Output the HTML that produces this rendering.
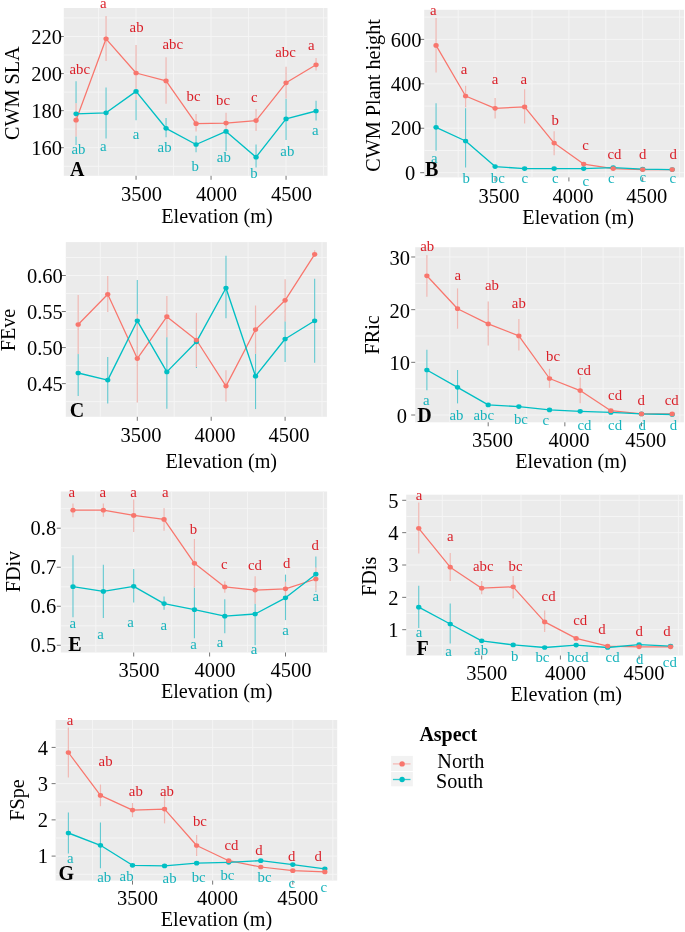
<!DOCTYPE html>
<html><head><meta charset="utf-8"><style>
html,body{margin:0;padding:0;background:#fff;overflow:hidden;width:685px;height:932px;}
svg{display:block;will-change:transform;}
text{font-family:"Liberation Serif",serif;}
.tk{font-size:20.5px;fill:#000;}
.ti{font-size:20.2px;fill:#000;}
.lt{font-size:14.8px;}
.tg{font-size:20px;font-weight:bold;fill:#000;}
</style></head><body>
<svg width="685" height="932" viewBox="0 0 685 932">
<rect x="63.8" y="8" width="263.7" height="167.8" fill="#EBEBEB"/>
<line x1="63.8" x2="327.5" y1="17.97" y2="17.97" stroke="#F5F5F5" stroke-width="1.0"/>
<line x1="63.8" x2="327.5" y1="55.03" y2="55.03" stroke="#F5F5F5" stroke-width="1.0"/>
<line x1="63.8" x2="327.5" y1="92.1" y2="92.1" stroke="#F5F5F5" stroke-width="1.0"/>
<line x1="63.8" x2="327.5" y1="129.16" y2="129.16" stroke="#F5F5F5" stroke-width="1.0"/>
<line x1="63.8" x2="327.5" y1="166.23" y2="166.23" stroke="#F5F5F5" stroke-width="1.0"/>
<line y1="8" y2="175.8" x1="98.55" x2="98.55" stroke="#F5F5F5" stroke-width="1.0"/>
<line y1="8" y2="175.8" x1="173.55" x2="173.55" stroke="#F5F5F5" stroke-width="1.0"/>
<line y1="8" y2="175.8" x1="248.55" x2="248.55" stroke="#F5F5F5" stroke-width="1.0"/>
<line y1="8" y2="175.8" x1="323.55" x2="323.55" stroke="#F5F5F5" stroke-width="1.0"/>
<line x1="63.8" x2="327.5" y1="36.5" y2="36.5" stroke="#F5F5F5" stroke-width="1.0"/>
<line x1="63.8" x2="327.5" y1="73.57" y2="73.57" stroke="#F5F5F5" stroke-width="1.0"/>
<line x1="63.8" x2="327.5" y1="110.63" y2="110.63" stroke="#F5F5F5" stroke-width="1.0"/>
<line x1="63.8" x2="327.5" y1="147.7" y2="147.7" stroke="#F5F5F5" stroke-width="1.0"/>
<line y1="8" y2="175.8" x1="136.05" x2="136.05" stroke="#F5F5F5" stroke-width="1.0"/>
<line y1="8" y2="175.8" x1="211.05" x2="211.05" stroke="#F5F5F5" stroke-width="1.0"/>
<line y1="8" y2="175.8" x1="286.05" x2="286.05" stroke="#F5F5F5" stroke-width="1.0"/>
<line x1="59.8" x2="63.8" y1="36.5" y2="36.5" stroke="#666" stroke-width="0.9"/>
<line x1="59.8" x2="63.8" y1="73.57" y2="73.57" stroke="#666" stroke-width="0.9"/>
<line x1="59.8" x2="63.8" y1="110.63" y2="110.63" stroke="#666" stroke-width="0.9"/>
<line x1="59.8" x2="63.8" y1="147.7" y2="147.7" stroke="#666" stroke-width="0.9"/>
<line y1="175.8" y2="179.8" x1="136.05" x2="136.05" stroke="#666" stroke-width="0.9"/>
<line y1="175.8" y2="179.8" x1="211.05" x2="211.05" stroke="#666" stroke-width="0.9"/>
<line y1="175.8" y2="179.8" x1="286.05" x2="286.05" stroke="#666" stroke-width="0.9"/>
<text x="62" y="43.7" text-anchor="end" class="tk">220</text>
<text x="62" y="80.77" text-anchor="end" class="tk">200</text>
<text x="62" y="117.83" text-anchor="end" class="tk">180</text>
<text x="62" y="154.9" text-anchor="end" class="tk">160</text>
<text x="141.55" y="200.6" text-anchor="middle" class="tk">3500</text>
<text x="216.55" y="200.6" text-anchor="middle" class="tk">4000</text>
<text x="291.55" y="200.6" text-anchor="middle" class="tk">4500</text>
<text transform="translate(19.3,93.2) rotate(-90)" x="0" y="0" text-anchor="middle" class="ti">CWM SLA</text>
<text x="217" y="222.8" text-anchor="middle" class="ti">Elevation (m)</text>
<line x1="76.05" x2="76.05" y1="81.3" y2="145.1" stroke="#62C9D1" stroke-width="1.1"/>
<line x1="106.05" x2="106.05" y1="87.5" y2="138.6" stroke="#62C9D1" stroke-width="1.1"/>
<line x1="136.05" x2="136.05" y1="68" y2="120.2" stroke="#62C9D1" stroke-width="1.1"/>
<line x1="166.05" x2="166.05" y1="118.1" y2="137.3" stroke="#62C9D1" stroke-width="1.1"/>
<line x1="196.05" x2="196.05" y1="135.8" y2="152.2" stroke="#62C9D1" stroke-width="1.1"/>
<line x1="226.05" x2="226.05" y1="113" y2="151.1" stroke="#62C9D1" stroke-width="1.1"/>
<line x1="256.05" x2="256.05" y1="144.5" y2="167.5" stroke="#62C9D1" stroke-width="1.1"/>
<line x1="286.05" x2="286.05" y1="98.5" y2="140.1" stroke="#62C9D1" stroke-width="1.1"/>
<line x1="316.05" x2="316.05" y1="100.7" y2="120.4" stroke="#62C9D1" stroke-width="1.1"/>
<line x1="76.05" x2="76.05" y1="103.2" y2="136.5" stroke="#EBEBEB" stroke-width="1.9"/>
<line x1="76.05" x2="76.05" y1="103.2" y2="136.5" stroke="#F0B9B4" stroke-width="1.2"/>
<line x1="106.05" x2="106.05" y1="15.9" y2="60.9" stroke="#EBEBEB" stroke-width="1.9"/>
<line x1="106.05" x2="106.05" y1="15.9" y2="60.9" stroke="#F0B9B4" stroke-width="1.2"/>
<line x1="136.05" x2="136.05" y1="45" y2="100.1" stroke="#EBEBEB" stroke-width="1.9"/>
<line x1="136.05" x2="136.05" y1="45" y2="100.1" stroke="#F0B9B4" stroke-width="1.2"/>
<line x1="166.05" x2="166.05" y1="57.2" y2="103.8" stroke="#EBEBEB" stroke-width="1.9"/>
<line x1="166.05" x2="166.05" y1="57.2" y2="103.8" stroke="#F0B9B4" stroke-width="1.2"/>
<line x1="196.05" x2="196.05" y1="113.9" y2="131.4" stroke="#EBEBEB" stroke-width="1.9"/>
<line x1="196.05" x2="196.05" y1="113.9" y2="131.4" stroke="#F0B9B4" stroke-width="1.2"/>
<line x1="226.05" x2="226.05" y1="112.8" y2="130.3" stroke="#EBEBEB" stroke-width="1.9"/>
<line x1="226.05" x2="226.05" y1="112.8" y2="130.3" stroke="#F0B9B4" stroke-width="1.2"/>
<line x1="256.05" x2="256.05" y1="109" y2="130.9" stroke="#EBEBEB" stroke-width="1.9"/>
<line x1="256.05" x2="256.05" y1="109" y2="130.9" stroke="#F0B9B4" stroke-width="1.2"/>
<line x1="286.05" x2="286.05" y1="66.8" y2="98.5" stroke="#EBEBEB" stroke-width="1.9"/>
<line x1="286.05" x2="286.05" y1="66.8" y2="98.5" stroke="#F0B9B4" stroke-width="1.2"/>
<line x1="316.05" x2="316.05" y1="58" y2="70.5" stroke="#EBEBEB" stroke-width="1.9"/>
<line x1="316.05" x2="316.05" y1="58" y2="70.5" stroke="#F0B9B4" stroke-width="1.2"/>
<polyline points="76.05,120.2 106.05,38.8 136.05,73 166.05,80.9 196.05,123.7 226.05,123.1 256.05,120.6 286.05,82.8 316.05,64.8" fill="none" stroke="#F8766D" stroke-width="1.25" stroke-linejoin="round"/>
<polyline points="76.05,113.8 106.05,112.8 136.05,91.4 166.05,128.3 196.05,144.5 226.05,131.4 256.05,157.2 286.05,118.9 316.05,111" fill="none" stroke="#00BFC4" stroke-width="1.35" stroke-linejoin="round"/>
<ellipse cx="76.05" cy="113.8" rx="2.65" ry="2.35" fill="#00BFC4"/>
<ellipse cx="106.05" cy="112.8" rx="2.65" ry="2.35" fill="#00BFC4"/>
<ellipse cx="136.05" cy="91.4" rx="2.65" ry="2.35" fill="#00BFC4"/>
<ellipse cx="166.05" cy="128.3" rx="2.65" ry="2.35" fill="#00BFC4"/>
<ellipse cx="196.05" cy="144.5" rx="2.65" ry="2.35" fill="#00BFC4"/>
<ellipse cx="226.05" cy="131.4" rx="2.65" ry="2.35" fill="#00BFC4"/>
<ellipse cx="256.05" cy="157.2" rx="2.65" ry="2.35" fill="#00BFC4"/>
<ellipse cx="286.05" cy="118.9" rx="2.65" ry="2.35" fill="#00BFC4"/>
<ellipse cx="316.05" cy="111" rx="2.65" ry="2.35" fill="#00BFC4"/>
<ellipse cx="76.05" cy="120.2" rx="2.65" ry="2.35" fill="#F8766D"/>
<ellipse cx="106.05" cy="38.8" rx="2.65" ry="2.35" fill="#F8766D"/>
<ellipse cx="136.05" cy="73" rx="2.65" ry="2.35" fill="#F8766D"/>
<ellipse cx="166.05" cy="80.9" rx="2.65" ry="2.35" fill="#F8766D"/>
<ellipse cx="196.05" cy="123.7" rx="2.65" ry="2.35" fill="#F8766D"/>
<ellipse cx="226.05" cy="123.1" rx="2.65" ry="2.35" fill="#F8766D"/>
<ellipse cx="256.05" cy="120.6" rx="2.65" ry="2.35" fill="#F8766D"/>
<ellipse cx="286.05" cy="82.8" rx="2.65" ry="2.35" fill="#F8766D"/>
<ellipse cx="316.05" cy="64.8" rx="2.65" ry="2.35" fill="#F8766D"/>
<text x="79.8" y="73.5" text-anchor="middle" class="lt" fill="#DA1F28">abc</text>
<text x="78.4" y="153.8" text-anchor="middle" class="lt" fill="#17B3BC">ab</text>
<text x="103.3" y="8.3" text-anchor="middle" class="lt" fill="#DA1F28">a</text>
<text x="103.3" y="151.1" text-anchor="middle" class="lt" fill="#17B3BC">a</text>
<text x="136.6" y="32.2" text-anchor="middle" class="lt" fill="#DA1F28">ab</text>
<text x="136" y="138.5" text-anchor="middle" class="lt" fill="#17B3BC">a</text>
<text x="172.8" y="49.1" text-anchor="middle" class="lt" fill="#DA1F28">abc</text>
<text x="164.6" y="151.7" text-anchor="middle" class="lt" fill="#17B3BC">ab</text>
<text x="193.6" y="100.8" text-anchor="middle" class="lt" fill="#DA1F28">bc</text>
<text x="195.3" y="171.3" text-anchor="middle" class="lt" fill="#17B3BC">b</text>
<text x="223.1" y="104.5" text-anchor="middle" class="lt" fill="#DA1F28">bc</text>
<text x="223.8" y="162.1" text-anchor="middle" class="lt" fill="#17B3BC">ab</text>
<text x="254.4" y="101.7" text-anchor="middle" class="lt" fill="#DA1F28">c</text>
<text x="254" y="177.9" text-anchor="middle" class="lt" fill="#17B3BC">b</text>
<text x="285.5" y="57" text-anchor="middle" class="lt" fill="#DA1F28">abc</text>
<text x="287.3" y="156.4" text-anchor="middle" class="lt" fill="#17B3BC">ab</text>
<text x="311.4" y="49.8" text-anchor="middle" class="lt" fill="#DA1F28">a</text>
<text x="315.3" y="135.2" text-anchor="middle" class="lt" fill="#17B3BC">a</text>
<text x="70" y="175.6" class="tg">A</text>
<rect x="424.2" y="9.8" width="259.8" height="167.6" fill="#EBEBEB"/>
<line x1="424.2" x2="684" y1="17.16" y2="17.16" stroke="#F5F5F5" stroke-width="1.0"/>
<line x1="424.2" x2="684" y1="61.6" y2="61.6" stroke="#F5F5F5" stroke-width="1.0"/>
<line x1="424.2" x2="684" y1="106.04" y2="106.04" stroke="#F5F5F5" stroke-width="1.0"/>
<line x1="424.2" x2="684" y1="150.48" y2="150.48" stroke="#F5F5F5" stroke-width="1.0"/>
<line y1="9.8" y2="177.4" x1="458.2" x2="458.2" stroke="#F5F5F5" stroke-width="1.0"/>
<line y1="9.8" y2="177.4" x1="532" x2="532" stroke="#F5F5F5" stroke-width="1.0"/>
<line y1="9.8" y2="177.4" x1="605.8" x2="605.8" stroke="#F5F5F5" stroke-width="1.0"/>
<line y1="9.8" y2="177.4" x1="679.6" x2="679.6" stroke="#F5F5F5" stroke-width="1.0"/>
<line x1="424.2" x2="684" y1="39.38" y2="39.38" stroke="#F5F5F5" stroke-width="1.0"/>
<line x1="424.2" x2="684" y1="83.82" y2="83.82" stroke="#F5F5F5" stroke-width="1.0"/>
<line x1="424.2" x2="684" y1="128.26" y2="128.26" stroke="#F5F5F5" stroke-width="1.0"/>
<line x1="424.2" x2="684" y1="172.7" y2="172.7" stroke="#F5F5F5" stroke-width="1.0"/>
<line y1="9.8" y2="177.4" x1="495.1" x2="495.1" stroke="#F5F5F5" stroke-width="1.0"/>
<line y1="9.8" y2="177.4" x1="568.9" x2="568.9" stroke="#F5F5F5" stroke-width="1.0"/>
<line y1="9.8" y2="177.4" x1="642.7" x2="642.7" stroke="#F5F5F5" stroke-width="1.0"/>
<line x1="420.2" x2="424.2" y1="39.38" y2="39.38" stroke="#666" stroke-width="0.9"/>
<line x1="420.2" x2="424.2" y1="83.82" y2="83.82" stroke="#666" stroke-width="0.9"/>
<line x1="420.2" x2="424.2" y1="128.26" y2="128.26" stroke="#666" stroke-width="0.9"/>
<line x1="420.2" x2="424.2" y1="172.7" y2="172.7" stroke="#666" stroke-width="0.9"/>
<line y1="177.4" y2="181.4" x1="495.1" x2="495.1" stroke="#666" stroke-width="0.9"/>
<line y1="177.4" y2="181.4" x1="568.9" x2="568.9" stroke="#666" stroke-width="0.9"/>
<line y1="177.4" y2="181.4" x1="642.7" x2="642.7" stroke="#666" stroke-width="0.9"/>
<text x="421.5" y="46.58" text-anchor="end" class="tk">600</text>
<text x="421.5" y="91.02" text-anchor="end" class="tk">400</text>
<text x="421.5" y="135.46" text-anchor="end" class="tk">200</text>
<text x="415.2" y="179.9" text-anchor="end" class="tk">0</text>
<text x="499.1" y="202.9" text-anchor="middle" class="tk">3500</text>
<text x="572.9" y="202.9" text-anchor="middle" class="tk">4000</text>
<text x="646.7" y="202.9" text-anchor="middle" class="tk">4500</text>
<text transform="translate(380,95.4) rotate(-90)" x="0" y="0" text-anchor="middle" class="ti">CWM Plant height</text>
<text x="578.1" y="224.2" text-anchor="middle" class="ti">Elevation (m)</text>
<line x1="436.06" x2="436.06" y1="103.2" y2="150.8" stroke="#62C9D1" stroke-width="1.1"/>
<line x1="465.58" x2="465.58" y1="108.3" y2="167.6" stroke="#62C9D1" stroke-width="1.1"/>
<line x1="436.06" x2="436.06" y1="18" y2="72.6" stroke="#EBEBEB" stroke-width="1.9"/>
<line x1="436.06" x2="436.06" y1="18" y2="72.6" stroke="#F0B9B4" stroke-width="1.2"/>
<line x1="465.58" x2="465.58" y1="85.8" y2="107.3" stroke="#EBEBEB" stroke-width="1.9"/>
<line x1="465.58" x2="465.58" y1="85.8" y2="107.3" stroke="#F0B9B4" stroke-width="1.2"/>
<line x1="495.1" x2="495.1" y1="98.1" y2="118.5" stroke="#EBEBEB" stroke-width="1.9"/>
<line x1="495.1" x2="495.1" y1="98.1" y2="118.5" stroke="#F0B9B4" stroke-width="1.2"/>
<line x1="524.62" x2="524.62" y1="89.3" y2="123.6" stroke="#EBEBEB" stroke-width="1.9"/>
<line x1="524.62" x2="524.62" y1="89.3" y2="123.6" stroke="#F0B9B4" stroke-width="1.2"/>
<line x1="554.14" x2="554.14" y1="131.2" y2="155.3" stroke="#EBEBEB" stroke-width="1.9"/>
<line x1="554.14" x2="554.14" y1="131.2" y2="155.3" stroke="#F0B9B4" stroke-width="1.2"/>
<polyline points="436.06,45.4 465.58,96 495.1,108.3 524.62,106.9 554.14,143.1 583.66,164.1 613.18,168.6 642.7,169.6 672.22,169.6" fill="none" stroke="#F8766D" stroke-width="1.25" stroke-linejoin="round"/>
<polyline points="436.06,127.3 465.58,141 495.1,166.6 524.62,168.6 554.14,168.6 583.66,168.6 613.18,167.6 642.7,169.2 672.22,169.6" fill="none" stroke="#00BFC4" stroke-width="1.35" stroke-linejoin="round"/>
<ellipse cx="436.06" cy="127.3" rx="2.65" ry="2.35" fill="#00BFC4"/>
<ellipse cx="465.58" cy="141" rx="2.65" ry="2.35" fill="#00BFC4"/>
<ellipse cx="495.1" cy="166.6" rx="2.65" ry="2.35" fill="#00BFC4"/>
<ellipse cx="524.62" cy="168.6" rx="2.65" ry="2.35" fill="#00BFC4"/>
<ellipse cx="554.14" cy="168.6" rx="2.65" ry="2.35" fill="#00BFC4"/>
<ellipse cx="583.66" cy="168.6" rx="2.65" ry="2.35" fill="#00BFC4"/>
<ellipse cx="613.18" cy="167.6" rx="2.65" ry="2.35" fill="#00BFC4"/>
<ellipse cx="642.7" cy="169.2" rx="2.65" ry="2.35" fill="#00BFC4"/>
<ellipse cx="672.22" cy="169.6" rx="2.65" ry="2.35" fill="#00BFC4"/>
<ellipse cx="436.06" cy="45.4" rx="2.65" ry="2.35" fill="#F8766D"/>
<ellipse cx="465.58" cy="96" rx="2.65" ry="2.35" fill="#F8766D"/>
<ellipse cx="495.1" cy="108.3" rx="2.65" ry="2.35" fill="#F8766D"/>
<ellipse cx="524.62" cy="106.9" rx="2.65" ry="2.35" fill="#F8766D"/>
<ellipse cx="554.14" cy="143.1" rx="2.65" ry="2.35" fill="#F8766D"/>
<ellipse cx="583.66" cy="164.1" rx="2.65" ry="2.35" fill="#F8766D"/>
<ellipse cx="613.18" cy="168.6" rx="2.65" ry="2.35" fill="#F8766D"/>
<ellipse cx="642.7" cy="169.6" rx="2.65" ry="2.35" fill="#F8766D"/>
<ellipse cx="672.22" cy="169.6" rx="2.65" ry="2.35" fill="#F8766D"/>
<text x="433.4" y="15.2" text-anchor="middle" class="lt" fill="#DA1F28">a</text>
<text x="434.4" y="163" text-anchor="middle" class="lt" fill="#17B3BC">a</text>
<text x="464" y="73.7" text-anchor="middle" class="lt" fill="#DA1F28">a</text>
<text x="466.1" y="182.8" text-anchor="middle" class="lt" fill="#17B3BC">b</text>
<text x="495.1" y="83.9" text-anchor="middle" class="lt" fill="#DA1F28">a</text>
<text x="497.8" y="183.4" text-anchor="middle" class="lt" fill="#17B3BC">bc</text>
<text x="523.9" y="83.9" text-anchor="middle" class="lt" fill="#DA1F28">a</text>
<text x="524.7" y="183.4" text-anchor="middle" class="lt" fill="#17B3BC">c</text>
<text x="555.2" y="124.8" text-anchor="middle" class="lt" fill="#DA1F28">b</text>
<text x="555.2" y="183" text-anchor="middle" class="lt" fill="#17B3BC">c</text>
<text x="585.5" y="150.1" text-anchor="middle" class="lt" fill="#DA1F28">c</text>
<text x="585.9" y="185.5" text-anchor="middle" class="lt" fill="#17B3BC">c</text>
<text x="614.5" y="158.9" text-anchor="middle" class="lt" fill="#DA1F28">cd</text>
<text x="611.4" y="183.4" text-anchor="middle" class="lt" fill="#17B3BC">c</text>
<text x="642.7" y="158.9" text-anchor="middle" class="lt" fill="#DA1F28">d</text>
<text x="642.7" y="182.4" text-anchor="middle" class="lt" fill="#17B3BC">c</text>
<text x="673.3" y="158.9" text-anchor="middle" class="lt" fill="#DA1F28">d</text>
<text x="672.7" y="183.4" text-anchor="middle" class="lt" fill="#17B3BC">c</text>
<text x="425" y="176.2" class="tg">B</text>
<rect x="65.8" y="242.1" width="261.1" height="174.7" fill="#EBEBEB"/>
<line x1="65.8" x2="326.9" y1="257.48" y2="257.48" stroke="#F5F5F5" stroke-width="1.0"/>
<line x1="65.8" x2="326.9" y1="293.52" y2="293.52" stroke="#F5F5F5" stroke-width="1.0"/>
<line x1="65.8" x2="326.9" y1="329.55" y2="329.55" stroke="#F5F5F5" stroke-width="1.0"/>
<line x1="65.8" x2="326.9" y1="365.59" y2="365.59" stroke="#F5F5F5" stroke-width="1.0"/>
<line x1="65.8" x2="326.9" y1="401.62" y2="401.62" stroke="#F5F5F5" stroke-width="1.0"/>
<line y1="242.1" y2="416.8" x1="100.35" x2="100.35" stroke="#F5F5F5" stroke-width="1.0"/>
<line y1="242.1" y2="416.8" x1="174.25" x2="174.25" stroke="#F5F5F5" stroke-width="1.0"/>
<line y1="242.1" y2="416.8" x1="248.15" x2="248.15" stroke="#F5F5F5" stroke-width="1.0"/>
<line y1="242.1" y2="416.8" x1="322.05" x2="322.05" stroke="#F5F5F5" stroke-width="1.0"/>
<line x1="65.8" x2="326.9" y1="275.5" y2="275.5" stroke="#F5F5F5" stroke-width="1.0"/>
<line x1="65.8" x2="326.9" y1="311.53" y2="311.53" stroke="#F5F5F5" stroke-width="1.0"/>
<line x1="65.8" x2="326.9" y1="347.57" y2="347.57" stroke="#F5F5F5" stroke-width="1.0"/>
<line x1="65.8" x2="326.9" y1="383.61" y2="383.61" stroke="#F5F5F5" stroke-width="1.0"/>
<line y1="242.1" y2="416.8" x1="137.3" x2="137.3" stroke="#F5F5F5" stroke-width="1.0"/>
<line y1="242.1" y2="416.8" x1="211.2" x2="211.2" stroke="#F5F5F5" stroke-width="1.0"/>
<line y1="242.1" y2="416.8" x1="285.1" x2="285.1" stroke="#F5F5F5" stroke-width="1.0"/>
<line x1="61.8" x2="65.8" y1="275.5" y2="275.5" stroke="#666" stroke-width="0.9"/>
<line x1="61.8" x2="65.8" y1="311.53" y2="311.53" stroke="#666" stroke-width="0.9"/>
<line x1="61.8" x2="65.8" y1="347.57" y2="347.57" stroke="#666" stroke-width="0.9"/>
<line x1="61.8" x2="65.8" y1="383.61" y2="383.61" stroke="#666" stroke-width="0.9"/>
<line y1="416.8" y2="420.8" x1="137.3" x2="137.3" stroke="#666" stroke-width="0.9"/>
<line y1="416.8" y2="420.8" x1="211.2" x2="211.2" stroke="#666" stroke-width="0.9"/>
<line y1="416.8" y2="420.8" x1="285.1" x2="285.1" stroke="#666" stroke-width="0.9"/>
<text x="62.8" y="282.7" text-anchor="end" class="tk">0.60</text>
<text x="62.8" y="318.73" text-anchor="end" class="tk">0.55</text>
<text x="62.8" y="354.77" text-anchor="end" class="tk">0.50</text>
<text x="62.8" y="390.81" text-anchor="end" class="tk">0.45</text>
<text x="141.1" y="442" text-anchor="middle" class="tk">3500</text>
<text x="215" y="442" text-anchor="middle" class="tk">4000</text>
<text x="288.9" y="442" text-anchor="middle" class="tk">4500</text>
<text transform="translate(14.9,330) rotate(-90)" x="0" y="0" text-anchor="middle" class="ti">FEve</text>
<text x="221.3" y="467.7" text-anchor="middle" class="ti">Elevation (m)</text>
<line x1="78.18" x2="78.18" y1="353.5" y2="396" stroke="#62C9D1" stroke-width="1.1"/>
<line x1="107.74" x2="107.74" y1="357" y2="403.6" stroke="#62C9D1" stroke-width="1.1"/>
<line x1="137.3" x2="137.3" y1="280" y2="361.6" stroke="#62C9D1" stroke-width="1.1"/>
<line x1="166.86" x2="166.86" y1="336.8" y2="408.7" stroke="#62C9D1" stroke-width="1.1"/>
<line x1="196.42" x2="196.42" y1="315.6" y2="368" stroke="#62C9D1" stroke-width="1.1"/>
<line x1="225.98" x2="225.98" y1="255.8" y2="318.2" stroke="#62C9D1" stroke-width="1.1"/>
<line x1="255.54" x2="255.54" y1="343.3" y2="409.1" stroke="#62C9D1" stroke-width="1.1"/>
<line x1="285.1" x2="285.1" y1="316" y2="362" stroke="#62C9D1" stroke-width="1.1"/>
<line x1="314.66" x2="314.66" y1="278.8" y2="362.8" stroke="#62C9D1" stroke-width="1.1"/>
<line x1="78.18" x2="78.18" y1="294.9" y2="354.1" stroke="#EBEBEB" stroke-width="1.9"/>
<line x1="78.18" x2="78.18" y1="294.9" y2="354.1" stroke="#F0B9B4" stroke-width="1.2"/>
<line x1="107.74" x2="107.74" y1="275.9" y2="312" stroke="#EBEBEB" stroke-width="1.9"/>
<line x1="107.74" x2="107.74" y1="275.9" y2="312" stroke="#F0B9B4" stroke-width="1.2"/>
<line x1="137.3" x2="137.3" y1="314.6" y2="402.6" stroke="#EBEBEB" stroke-width="1.9"/>
<line x1="137.3" x2="137.3" y1="314.6" y2="402.6" stroke="#F0B9B4" stroke-width="1.2"/>
<line x1="166.86" x2="166.86" y1="295.9" y2="337.2" stroke="#EBEBEB" stroke-width="1.9"/>
<line x1="166.86" x2="166.86" y1="295.9" y2="337.2" stroke="#F0B9B4" stroke-width="1.2"/>
<line x1="196.42" x2="196.42" y1="312.9" y2="367" stroke="#EBEBEB" stroke-width="1.9"/>
<line x1="196.42" x2="196.42" y1="312.9" y2="367" stroke="#F0B9B4" stroke-width="1.2"/>
<line x1="225.98" x2="225.98" y1="370.3" y2="401.4" stroke="#EBEBEB" stroke-width="1.9"/>
<line x1="225.98" x2="225.98" y1="370.3" y2="401.4" stroke="#F0B9B4" stroke-width="1.2"/>
<line x1="255.54" x2="255.54" y1="305.5" y2="353.7" stroke="#EBEBEB" stroke-width="1.9"/>
<line x1="255.54" x2="255.54" y1="305.5" y2="353.7" stroke="#F0B9B4" stroke-width="1.2"/>
<line x1="285.1" x2="285.1" y1="279.2" y2="321.4" stroke="#EBEBEB" stroke-width="1.9"/>
<line x1="285.1" x2="285.1" y1="279.2" y2="321.4" stroke="#F0B9B4" stroke-width="1.2"/>
<line x1="314.66" x2="314.66" y1="250.3" y2="256.9" stroke="#EBEBEB" stroke-width="1.9"/>
<line x1="314.66" x2="314.66" y1="250.3" y2="256.9" stroke="#F0B9B4" stroke-width="1.2"/>
<polyline points="78.18,324.5 107.74,294.3 137.3,358.6 166.86,316.7 196.42,340 225.98,386.1 255.54,329.6 285.1,300.3 314.66,254.3" fill="none" stroke="#F8766D" stroke-width="1.25" stroke-linejoin="round"/>
<polyline points="78.18,373 107.74,380.1 137.3,320.8 166.86,371.9 196.42,341.8 225.98,288 255.54,376.2 285.1,339 314.66,320.8" fill="none" stroke="#00BFC4" stroke-width="1.35" stroke-linejoin="round"/>
<ellipse cx="78.18" cy="373" rx="2.65" ry="2.35" fill="#00BFC4"/>
<ellipse cx="107.74" cy="380.1" rx="2.65" ry="2.35" fill="#00BFC4"/>
<ellipse cx="137.3" cy="320.8" rx="2.65" ry="2.35" fill="#00BFC4"/>
<ellipse cx="166.86" cy="371.9" rx="2.65" ry="2.35" fill="#00BFC4"/>
<ellipse cx="196.42" cy="341.8" rx="2.65" ry="2.35" fill="#00BFC4"/>
<ellipse cx="225.98" cy="288" rx="2.65" ry="2.35" fill="#00BFC4"/>
<ellipse cx="255.54" cy="376.2" rx="2.65" ry="2.35" fill="#00BFC4"/>
<ellipse cx="285.1" cy="339" rx="2.65" ry="2.35" fill="#00BFC4"/>
<ellipse cx="314.66" cy="320.8" rx="2.65" ry="2.35" fill="#00BFC4"/>
<ellipse cx="78.18" cy="324.5" rx="2.65" ry="2.35" fill="#F8766D"/>
<ellipse cx="107.74" cy="294.3" rx="2.65" ry="2.35" fill="#F8766D"/>
<ellipse cx="137.3" cy="358.6" rx="2.65" ry="2.35" fill="#F8766D"/>
<ellipse cx="166.86" cy="316.7" rx="2.65" ry="2.35" fill="#F8766D"/>
<ellipse cx="196.42" cy="340" rx="2.65" ry="2.35" fill="#F8766D"/>
<ellipse cx="225.98" cy="386.1" rx="2.65" ry="2.35" fill="#F8766D"/>
<ellipse cx="255.54" cy="329.6" rx="2.65" ry="2.35" fill="#F8766D"/>
<ellipse cx="285.1" cy="300.3" rx="2.65" ry="2.35" fill="#F8766D"/>
<ellipse cx="314.66" cy="254.3" rx="2.65" ry="2.35" fill="#F8766D"/>
<text x="69.8" y="416.5" class="tg">C</text>
<rect x="415.2" y="247.2" width="268.7" height="175.1" fill="#EBEBEB"/>
<line x1="415.2" x2="683.9" y1="283.32" y2="283.32" stroke="#F5F5F5" stroke-width="1.0"/>
<line x1="415.2" x2="683.9" y1="336" y2="336" stroke="#F5F5F5" stroke-width="1.0"/>
<line x1="415.2" x2="683.9" y1="388.67" y2="388.67" stroke="#F5F5F5" stroke-width="1.0"/>
<line y1="247.2" y2="422.3" x1="449.88" x2="449.88" stroke="#F5F5F5" stroke-width="1.0"/>
<line y1="247.2" y2="422.3" x1="526.52" x2="526.52" stroke="#F5F5F5" stroke-width="1.0"/>
<line y1="247.2" y2="422.3" x1="603.17" x2="603.17" stroke="#F5F5F5" stroke-width="1.0"/>
<line y1="247.2" y2="422.3" x1="679.83" x2="679.83" stroke="#F5F5F5" stroke-width="1.0"/>
<line x1="415.2" x2="683.9" y1="256.99" y2="256.99" stroke="#F5F5F5" stroke-width="1.0"/>
<line x1="415.2" x2="683.9" y1="309.66" y2="309.66" stroke="#F5F5F5" stroke-width="1.0"/>
<line x1="415.2" x2="683.9" y1="362.33" y2="362.33" stroke="#F5F5F5" stroke-width="1.0"/>
<line x1="415.2" x2="683.9" y1="415" y2="415" stroke="#F5F5F5" stroke-width="1.0"/>
<line y1="247.2" y2="422.3" x1="488.2" x2="488.2" stroke="#F5F5F5" stroke-width="1.0"/>
<line y1="247.2" y2="422.3" x1="564.85" x2="564.85" stroke="#F5F5F5" stroke-width="1.0"/>
<line y1="247.2" y2="422.3" x1="641.5" x2="641.5" stroke="#F5F5F5" stroke-width="1.0"/>
<line x1="411.2" x2="415.2" y1="256.99" y2="256.99" stroke="#666" stroke-width="0.9"/>
<line x1="411.2" x2="415.2" y1="309.66" y2="309.66" stroke="#666" stroke-width="0.9"/>
<line x1="411.2" x2="415.2" y1="362.33" y2="362.33" stroke="#666" stroke-width="0.9"/>
<line x1="411.2" x2="415.2" y1="415" y2="415" stroke="#666" stroke-width="0.9"/>
<line y1="422.3" y2="426.3" x1="488.2" x2="488.2" stroke="#666" stroke-width="0.9"/>
<line y1="422.3" y2="426.3" x1="564.85" x2="564.85" stroke="#666" stroke-width="0.9"/>
<line y1="422.3" y2="426.3" x1="641.5" x2="641.5" stroke="#666" stroke-width="0.9"/>
<text x="409.9" y="264.99" text-anchor="end" class="tk">30</text>
<text x="409.9" y="317.66" text-anchor="end" class="tk">20</text>
<text x="409.9" y="370.33" text-anchor="end" class="tk">10</text>
<text x="407" y="423" text-anchor="end" class="tk">0</text>
<text x="492.4" y="447.4" text-anchor="middle" class="tk">3500</text>
<text x="569.05" y="447.4" text-anchor="middle" class="tk">4000</text>
<text x="645.7" y="447.4" text-anchor="middle" class="tk">4500</text>
<text transform="translate(379.3,334.9) rotate(-90)" x="0" y="0" text-anchor="middle" class="ti">FRic</text>
<text x="571" y="468.3" text-anchor="middle" class="ti">Elevation (m)</text>
<line x1="426.88" x2="426.88" y1="349.7" y2="390.3" stroke="#62C9D1" stroke-width="1.1"/>
<line x1="457.54" x2="457.54" y1="370" y2="403.4" stroke="#62C9D1" stroke-width="1.1"/>
<line x1="426.88" x2="426.88" y1="254.9" y2="296.7" stroke="#EBEBEB" stroke-width="1.9"/>
<line x1="426.88" x2="426.88" y1="254.9" y2="296.7" stroke="#F0B9B4" stroke-width="1.2"/>
<line x1="457.54" x2="457.54" y1="288.4" y2="328.7" stroke="#EBEBEB" stroke-width="1.9"/>
<line x1="457.54" x2="457.54" y1="288.4" y2="328.7" stroke="#F0B9B4" stroke-width="1.2"/>
<line x1="488.2" x2="488.2" y1="301.5" y2="345.5" stroke="#EBEBEB" stroke-width="1.9"/>
<line x1="488.2" x2="488.2" y1="301.5" y2="345.5" stroke="#F0B9B4" stroke-width="1.2"/>
<line x1="518.86" x2="518.86" y1="319.1" y2="350.5" stroke="#EBEBEB" stroke-width="1.9"/>
<line x1="518.86" x2="518.86" y1="319.1" y2="350.5" stroke="#F0B9B4" stroke-width="1.2"/>
<line x1="549.52" x2="549.52" y1="368.8" y2="387.8" stroke="#EBEBEB" stroke-width="1.9"/>
<line x1="549.52" x2="549.52" y1="368.8" y2="387.8" stroke="#F0B9B4" stroke-width="1.2"/>
<line x1="580.18" x2="580.18" y1="377.3" y2="403.3" stroke="#EBEBEB" stroke-width="1.9"/>
<line x1="580.18" x2="580.18" y1="377.3" y2="403.3" stroke="#F0B9B4" stroke-width="1.2"/>
<polyline points="426.88,275.8 457.54,308.7 488.2,323.9 518.86,335.9 549.52,378.5 580.18,390.6 610.84,410.7 641.5,413.9 672.16,413.9" fill="none" stroke="#F8766D" stroke-width="1.25" stroke-linejoin="round"/>
<polyline points="426.88,370 457.54,387.3 488.2,404.9 518.86,406.6 549.52,409.9 580.18,411.3 610.84,412.4 641.5,413.9 672.16,414.5" fill="none" stroke="#00BFC4" stroke-width="1.35" stroke-linejoin="round"/>
<ellipse cx="426.88" cy="370" rx="2.65" ry="2.35" fill="#00BFC4"/>
<ellipse cx="457.54" cy="387.3" rx="2.65" ry="2.35" fill="#00BFC4"/>
<ellipse cx="488.2" cy="404.9" rx="2.65" ry="2.35" fill="#00BFC4"/>
<ellipse cx="518.86" cy="406.6" rx="2.65" ry="2.35" fill="#00BFC4"/>
<ellipse cx="549.52" cy="409.9" rx="2.65" ry="2.35" fill="#00BFC4"/>
<ellipse cx="580.18" cy="411.3" rx="2.65" ry="2.35" fill="#00BFC4"/>
<ellipse cx="610.84" cy="412.4" rx="2.65" ry="2.35" fill="#00BFC4"/>
<ellipse cx="641.5" cy="413.9" rx="2.65" ry="2.35" fill="#00BFC4"/>
<ellipse cx="672.16" cy="414.5" rx="2.65" ry="2.35" fill="#00BFC4"/>
<ellipse cx="426.88" cy="275.8" rx="2.65" ry="2.35" fill="#F8766D"/>
<ellipse cx="457.54" cy="308.7" rx="2.65" ry="2.35" fill="#F8766D"/>
<ellipse cx="488.2" cy="323.9" rx="2.65" ry="2.35" fill="#F8766D"/>
<ellipse cx="518.86" cy="335.9" rx="2.65" ry="2.35" fill="#F8766D"/>
<ellipse cx="549.52" cy="378.5" rx="2.65" ry="2.35" fill="#F8766D"/>
<ellipse cx="580.18" cy="390.6" rx="2.65" ry="2.35" fill="#F8766D"/>
<ellipse cx="610.84" cy="410.7" rx="2.65" ry="2.35" fill="#F8766D"/>
<ellipse cx="641.5" cy="413.9" rx="2.65" ry="2.35" fill="#F8766D"/>
<ellipse cx="672.16" cy="413.9" rx="2.65" ry="2.35" fill="#F8766D"/>
<text x="427.2" y="250.8" text-anchor="middle" class="lt" fill="#DA1F28">ab</text>
<text x="426.3" y="404.6" text-anchor="middle" class="lt" fill="#17B3BC">a</text>
<text x="457.7" y="279.9" text-anchor="middle" class="lt" fill="#DA1F28">a</text>
<text x="456.5" y="419.6" text-anchor="middle" class="lt" fill="#17B3BC">ab</text>
<text x="492" y="290.3" text-anchor="middle" class="lt" fill="#DA1F28">ab</text>
<text x="483.7" y="419.6" text-anchor="middle" class="lt" fill="#17B3BC">abc</text>
<text x="518.8" y="307.7" text-anchor="middle" class="lt" fill="#DA1F28">ab</text>
<text x="520.9" y="424.2" text-anchor="middle" class="lt" fill="#17B3BC">bc</text>
<text x="553.1" y="360.8" text-anchor="middle" class="lt" fill="#DA1F28">bc</text>
<text x="545.9" y="425" text-anchor="middle" class="lt" fill="#17B3BC">c</text>
<text x="584" y="375.2" text-anchor="middle" class="lt" fill="#DA1F28">cd</text>
<text x="584.5" y="429.9" text-anchor="middle" class="lt" fill="#17B3BC">cd</text>
<text x="615.1" y="399.6" text-anchor="middle" class="lt" fill="#DA1F28">cd</text>
<text x="615.1" y="429.9" text-anchor="middle" class="lt" fill="#17B3BC">cd</text>
<text x="641.2" y="405" text-anchor="middle" class="lt" fill="#DA1F28">d</text>
<text x="642.2" y="430.1" text-anchor="middle" class="lt" fill="#17B3BC">d</text>
<text x="671.7" y="405.3" text-anchor="middle" class="lt" fill="#DA1F28">cd</text>
<text x="673.4" y="430.3" text-anchor="middle" class="lt" fill="#17B3BC">d</text>
<text x="417.3" y="422.3" class="tg">D</text>
<rect x="60.8" y="491.5" width="266.3" height="161" fill="#EBEBEB"/>
<line x1="60.8" x2="327.1" y1="508.69" y2="508.69" stroke="#F5F5F5" stroke-width="1.0"/>
<line x1="60.8" x2="327.1" y1="547.72" y2="547.72" stroke="#F5F5F5" stroke-width="1.0"/>
<line x1="60.8" x2="327.1" y1="586.75" y2="586.75" stroke="#F5F5F5" stroke-width="1.0"/>
<line x1="60.8" x2="327.1" y1="625.78" y2="625.78" stroke="#F5F5F5" stroke-width="1.0"/>
<line y1="491.5" y2="652.5" x1="95.75" x2="95.75" stroke="#F5F5F5" stroke-width="1.0"/>
<line y1="491.5" y2="652.5" x1="171.65" x2="171.65" stroke="#F5F5F5" stroke-width="1.0"/>
<line y1="491.5" y2="652.5" x1="247.55" x2="247.55" stroke="#F5F5F5" stroke-width="1.0"/>
<line y1="491.5" y2="652.5" x1="323.45" x2="323.45" stroke="#F5F5F5" stroke-width="1.0"/>
<line x1="60.8" x2="327.1" y1="528.2" y2="528.2" stroke="#F5F5F5" stroke-width="1.0"/>
<line x1="60.8" x2="327.1" y1="567.23" y2="567.23" stroke="#F5F5F5" stroke-width="1.0"/>
<line x1="60.8" x2="327.1" y1="606.26" y2="606.26" stroke="#F5F5F5" stroke-width="1.0"/>
<line x1="60.8" x2="327.1" y1="645.29" y2="645.29" stroke="#F5F5F5" stroke-width="1.0"/>
<line y1="491.5" y2="652.5" x1="133.7" x2="133.7" stroke="#F5F5F5" stroke-width="1.0"/>
<line y1="491.5" y2="652.5" x1="209.6" x2="209.6" stroke="#F5F5F5" stroke-width="1.0"/>
<line y1="491.5" y2="652.5" x1="285.5" x2="285.5" stroke="#F5F5F5" stroke-width="1.0"/>
<line x1="56.8" x2="60.8" y1="528.2" y2="528.2" stroke="#666" stroke-width="0.9"/>
<line x1="56.8" x2="60.8" y1="567.23" y2="567.23" stroke="#666" stroke-width="0.9"/>
<line x1="56.8" x2="60.8" y1="606.26" y2="606.26" stroke="#666" stroke-width="0.9"/>
<line x1="56.8" x2="60.8" y1="645.29" y2="645.29" stroke="#666" stroke-width="0.9"/>
<line y1="652.5" y2="656.5" x1="133.7" x2="133.7" stroke="#666" stroke-width="0.9"/>
<line y1="652.5" y2="656.5" x1="209.6" x2="209.6" stroke="#666" stroke-width="0.9"/>
<line y1="652.5" y2="656.5" x1="285.5" x2="285.5" stroke="#666" stroke-width="0.9"/>
<text x="56.2" y="535.4" text-anchor="end" class="tk">0.8</text>
<text x="56.2" y="574.43" text-anchor="end" class="tk">0.7</text>
<text x="56.2" y="613.46" text-anchor="end" class="tk">0.6</text>
<text x="56.2" y="652.49" text-anchor="end" class="tk">0.5</text>
<text x="139.1" y="677" text-anchor="middle" class="tk">3500</text>
<text x="215" y="677" text-anchor="middle" class="tk">4000</text>
<text x="290.9" y="677" text-anchor="middle" class="tk">4500</text>
<text transform="translate(20.2,571.6) rotate(-90)" x="0" y="0" text-anchor="middle" class="ti">FDiv</text>
<text x="216.7" y="697.7" text-anchor="middle" class="ti">Elevation (m)</text>
<line x1="72.98" x2="72.98" y1="555.2" y2="617.3" stroke="#62C9D1" stroke-width="1.1"/>
<line x1="103.34" x2="103.34" y1="564.8" y2="618" stroke="#62C9D1" stroke-width="1.1"/>
<line x1="133.7" x2="133.7" y1="568.9" y2="602.6" stroke="#62C9D1" stroke-width="1.1"/>
<line x1="164.06" x2="164.06" y1="596.5" y2="609.8" stroke="#62C9D1" stroke-width="1.1"/>
<line x1="194.42" x2="194.42" y1="587.3" y2="638.2" stroke="#62C9D1" stroke-width="1.1"/>
<line x1="224.78" x2="224.78" y1="599.3" y2="633.3" stroke="#62C9D1" stroke-width="1.1"/>
<line x1="255.14" x2="255.14" y1="582.7" y2="645.3" stroke="#62C9D1" stroke-width="1.1"/>
<line x1="285.5" x2="285.5" y1="574.6" y2="620.1" stroke="#62C9D1" stroke-width="1.1"/>
<line x1="315.86" x2="315.86" y1="556.6" y2="591.8" stroke="#62C9D1" stroke-width="1.1"/>
<line x1="72.98" x2="72.98" y1="503.5" y2="517.2" stroke="#EBEBEB" stroke-width="1.9"/>
<line x1="72.98" x2="72.98" y1="503.5" y2="517.2" stroke="#F0B9B4" stroke-width="1.2"/>
<line x1="103.34" x2="103.34" y1="503.5" y2="516.8" stroke="#EBEBEB" stroke-width="1.9"/>
<line x1="103.34" x2="103.34" y1="503.5" y2="516.8" stroke="#F0B9B4" stroke-width="1.2"/>
<line x1="133.7" x2="133.7" y1="499.4" y2="532.1" stroke="#EBEBEB" stroke-width="1.9"/>
<line x1="133.7" x2="133.7" y1="499.4" y2="532.1" stroke="#F0B9B4" stroke-width="1.2"/>
<line x1="164.06" x2="164.06" y1="508.2" y2="530.7" stroke="#EBEBEB" stroke-width="1.9"/>
<line x1="164.06" x2="164.06" y1="508.2" y2="530.7" stroke="#F0B9B4" stroke-width="1.2"/>
<line x1="194.42" x2="194.42" y1="539" y2="587.5" stroke="#EBEBEB" stroke-width="1.9"/>
<line x1="194.42" x2="194.42" y1="539" y2="587.5" stroke="#F0B9B4" stroke-width="1.2"/>
<line x1="224.78" x2="224.78" y1="581.2" y2="592.8" stroke="#EBEBEB" stroke-width="1.9"/>
<line x1="224.78" x2="224.78" y1="581.2" y2="592.8" stroke="#F0B9B4" stroke-width="1.2"/>
<line x1="255.14" x2="255.14" y1="576.3" y2="603.7" stroke="#EBEBEB" stroke-width="1.9"/>
<line x1="255.14" x2="255.14" y1="576.3" y2="603.7" stroke="#F0B9B4" stroke-width="1.2"/>
<line x1="285.5" x2="285.5" y1="581.8" y2="595.8" stroke="#EBEBEB" stroke-width="1.9"/>
<line x1="285.5" x2="285.5" y1="581.8" y2="595.8" stroke="#F0B9B4" stroke-width="1.2"/>
<line x1="315.86" x2="315.86" y1="567.6" y2="590.6" stroke="#EBEBEB" stroke-width="1.9"/>
<line x1="315.86" x2="315.86" y1="567.6" y2="590.6" stroke="#F0B9B4" stroke-width="1.2"/>
<polyline points="72.98,510.2 103.34,510.2 133.7,515.4 164.06,519.4 194.42,563.3 224.78,586.9 255.14,590.1 285.5,588.8 315.86,579" fill="none" stroke="#F8766D" stroke-width="1.25" stroke-linejoin="round"/>
<polyline points="72.98,586.7 103.34,591.4 133.7,586.3 164.06,603.6 194.42,609.7 224.78,616.2 255.14,614 285.5,597.8 315.86,574.2" fill="none" stroke="#00BFC4" stroke-width="1.35" stroke-linejoin="round"/>
<ellipse cx="72.98" cy="586.7" rx="2.65" ry="2.35" fill="#00BFC4"/>
<ellipse cx="103.34" cy="591.4" rx="2.65" ry="2.35" fill="#00BFC4"/>
<ellipse cx="133.7" cy="586.3" rx="2.65" ry="2.35" fill="#00BFC4"/>
<ellipse cx="164.06" cy="603.6" rx="2.65" ry="2.35" fill="#00BFC4"/>
<ellipse cx="194.42" cy="609.7" rx="2.65" ry="2.35" fill="#00BFC4"/>
<ellipse cx="224.78" cy="616.2" rx="2.65" ry="2.35" fill="#00BFC4"/>
<ellipse cx="255.14" cy="614" rx="2.65" ry="2.35" fill="#00BFC4"/>
<ellipse cx="285.5" cy="597.8" rx="2.65" ry="2.35" fill="#00BFC4"/>
<ellipse cx="315.86" cy="574.2" rx="2.65" ry="2.35" fill="#00BFC4"/>
<ellipse cx="72.98" cy="510.2" rx="2.65" ry="2.35" fill="#F8766D"/>
<ellipse cx="103.34" cy="510.2" rx="2.65" ry="2.35" fill="#F8766D"/>
<ellipse cx="133.7" cy="515.4" rx="2.65" ry="2.35" fill="#F8766D"/>
<ellipse cx="164.06" cy="519.4" rx="2.65" ry="2.35" fill="#F8766D"/>
<ellipse cx="194.42" cy="563.3" rx="2.65" ry="2.35" fill="#F8766D"/>
<ellipse cx="224.78" cy="586.9" rx="2.65" ry="2.35" fill="#F8766D"/>
<ellipse cx="255.14" cy="590.1" rx="2.65" ry="2.35" fill="#F8766D"/>
<ellipse cx="285.5" cy="588.8" rx="2.65" ry="2.35" fill="#F8766D"/>
<ellipse cx="315.86" cy="579" rx="2.65" ry="2.35" fill="#F8766D"/>
<text x="71.9" y="497.3" text-anchor="middle" class="lt" fill="#DA1F28">a</text>
<text x="72.7" y="627.6" text-anchor="middle" class="lt" fill="#17B3BC">a</text>
<text x="102.9" y="497.3" text-anchor="middle" class="lt" fill="#DA1F28">a</text>
<text x="100.5" y="638.9" text-anchor="middle" class="lt" fill="#17B3BC">a</text>
<text x="133.6" y="497.3" text-anchor="middle" class="lt" fill="#DA1F28">a</text>
<text x="130.5" y="626.6" text-anchor="middle" class="lt" fill="#17B3BC">a</text>
<text x="165.3" y="497.3" text-anchor="middle" class="lt" fill="#DA1F28">a</text>
<text x="163.8" y="629.7" text-anchor="middle" class="lt" fill="#17B3BC">a</text>
<text x="193.5" y="533.7" text-anchor="middle" class="lt" fill="#DA1F28">b</text>
<text x="193.5" y="649.1" text-anchor="middle" class="lt" fill="#17B3BC">a</text>
<text x="224.4" y="568.5" text-anchor="middle" class="lt" fill="#DA1F28">c</text>
<text x="220.1" y="646.5" text-anchor="middle" class="lt" fill="#17B3BC">a</text>
<text x="254.9" y="569.8" text-anchor="middle" class="lt" fill="#DA1F28">cd</text>
<text x="254" y="653.9" text-anchor="middle" class="lt" fill="#17B3BC">a</text>
<text x="286.6" y="568.1" text-anchor="middle" class="lt" fill="#DA1F28">d</text>
<text x="285.5" y="634.9" text-anchor="middle" class="lt" fill="#17B3BC">a</text>
<text x="315.3" y="550.1" text-anchor="middle" class="lt" fill="#DA1F28">d</text>
<text x="315.8" y="600.5" text-anchor="middle" class="lt" fill="#17B3BC">a</text>
<text x="68.2" y="651.3" class="tg">E</text>
<rect x="406.2" y="494.7" width="276.8" height="160.8" fill="#EBEBEB"/>
<line x1="406.2" x2="683" y1="516.48" y2="516.48" stroke="#F5F5F5" stroke-width="1.0"/>
<line x1="406.2" x2="683" y1="548.83" y2="548.83" stroke="#F5F5F5" stroke-width="1.0"/>
<line x1="406.2" x2="683" y1="581.18" y2="581.18" stroke="#F5F5F5" stroke-width="1.0"/>
<line x1="406.2" x2="683" y1="613.53" y2="613.53" stroke="#F5F5F5" stroke-width="1.0"/>
<line x1="406.2" x2="683" y1="645.88" y2="645.88" stroke="#F5F5F5" stroke-width="1.0"/>
<line y1="494.7" y2="655.5" x1="442.35" x2="442.35" stroke="#F5F5F5" stroke-width="1.0"/>
<line y1="494.7" y2="655.5" x1="521.05" x2="521.05" stroke="#F5F5F5" stroke-width="1.0"/>
<line y1="494.7" y2="655.5" x1="599.75" x2="599.75" stroke="#F5F5F5" stroke-width="1.0"/>
<line y1="494.7" y2="655.5" x1="678.45" x2="678.45" stroke="#F5F5F5" stroke-width="1.0"/>
<line x1="406.2" x2="683" y1="500.3" y2="500.3" stroke="#F5F5F5" stroke-width="1.0"/>
<line x1="406.2" x2="683" y1="532.65" y2="532.65" stroke="#F5F5F5" stroke-width="1.0"/>
<line x1="406.2" x2="683" y1="565" y2="565" stroke="#F5F5F5" stroke-width="1.0"/>
<line x1="406.2" x2="683" y1="597.35" y2="597.35" stroke="#F5F5F5" stroke-width="1.0"/>
<line x1="406.2" x2="683" y1="629.7" y2="629.7" stroke="#F5F5F5" stroke-width="1.0"/>
<line y1="494.7" y2="655.5" x1="481.7" x2="481.7" stroke="#F5F5F5" stroke-width="1.0"/>
<line y1="494.7" y2="655.5" x1="560.4" x2="560.4" stroke="#F5F5F5" stroke-width="1.0"/>
<line y1="494.7" y2="655.5" x1="639.1" x2="639.1" stroke="#F5F5F5" stroke-width="1.0"/>
<line x1="402.2" x2="406.2" y1="500.3" y2="500.3" stroke="#666" stroke-width="0.9"/>
<line x1="402.2" x2="406.2" y1="532.65" y2="532.65" stroke="#666" stroke-width="0.9"/>
<line x1="402.2" x2="406.2" y1="565" y2="565" stroke="#666" stroke-width="0.9"/>
<line x1="402.2" x2="406.2" y1="597.35" y2="597.35" stroke="#666" stroke-width="0.9"/>
<line x1="402.2" x2="406.2" y1="629.7" y2="629.7" stroke="#666" stroke-width="0.9"/>
<line y1="655.5" y2="659.5" x1="481.7" x2="481.7" stroke="#666" stroke-width="0.9"/>
<line y1="655.5" y2="659.5" x1="560.4" x2="560.4" stroke="#666" stroke-width="0.9"/>
<line y1="655.5" y2="659.5" x1="639.1" x2="639.1" stroke="#666" stroke-width="0.9"/>
<text x="398.5" y="507.5" text-anchor="end" class="tk">5</text>
<text x="398.5" y="539.85" text-anchor="end" class="tk">4</text>
<text x="398.5" y="572.2" text-anchor="end" class="tk">3</text>
<text x="398.5" y="604.55" text-anchor="end" class="tk">2</text>
<text x="398.5" y="636.9" text-anchor="end" class="tk">1</text>
<text x="486.7" y="680" text-anchor="middle" class="tk">3500</text>
<text x="565.4" y="680" text-anchor="middle" class="tk">4000</text>
<text x="644.1" y="680" text-anchor="middle" class="tk">4500</text>
<text transform="translate(376.3,576.3) rotate(-90)" x="0" y="0" text-anchor="middle" class="ti">FDis</text>
<text x="566.3" y="701.4" text-anchor="middle" class="ti">Elevation (m)</text>
<line x1="418.74" x2="418.74" y1="585.8" y2="628.1" stroke="#62C9D1" stroke-width="1.1"/>
<line x1="450.22" x2="450.22" y1="603.5" y2="643.4" stroke="#62C9D1" stroke-width="1.1"/>
<line x1="418.74" x2="418.74" y1="502.4" y2="553.5" stroke="#EBEBEB" stroke-width="1.9"/>
<line x1="418.74" x2="418.74" y1="502.4" y2="553.5" stroke="#F0B9B4" stroke-width="1.2"/>
<line x1="450.22" x2="450.22" y1="552.9" y2="581.1" stroke="#EBEBEB" stroke-width="1.9"/>
<line x1="450.22" x2="450.22" y1="552.9" y2="581.1" stroke="#F0B9B4" stroke-width="1.2"/>
<line x1="481.7" x2="481.7" y1="581.1" y2="594.3" stroke="#EBEBEB" stroke-width="1.9"/>
<line x1="481.7" x2="481.7" y1="581.1" y2="594.3" stroke="#F0B9B4" stroke-width="1.2"/>
<line x1="513.18" x2="513.18" y1="575.9" y2="598.4" stroke="#EBEBEB" stroke-width="1.9"/>
<line x1="513.18" x2="513.18" y1="575.9" y2="598.4" stroke="#F0B9B4" stroke-width="1.2"/>
<line x1="544.66" x2="544.66" y1="610.6" y2="632.1" stroke="#EBEBEB" stroke-width="1.9"/>
<line x1="544.66" x2="544.66" y1="610.6" y2="632.1" stroke="#F0B9B4" stroke-width="1.2"/>
<polyline points="418.74,528.3 450.22,567.2 481.7,588.2 513.18,586.8 544.66,621.9 576.14,638.4 607.62,646.1 639.1,646.8 670.58,646.8" fill="none" stroke="#F8766D" stroke-width="1.25" stroke-linejoin="round"/>
<polyline points="418.74,607.2 450.22,624 481.7,640.8 513.18,644.9 544.66,647.5 576.14,645.1 607.62,647.5 639.1,644.7 670.58,646.2" fill="none" stroke="#00BFC4" stroke-width="1.35" stroke-linejoin="round"/>
<ellipse cx="418.74" cy="607.2" rx="2.65" ry="2.35" fill="#00BFC4"/>
<ellipse cx="450.22" cy="624" rx="2.65" ry="2.35" fill="#00BFC4"/>
<ellipse cx="481.7" cy="640.8" rx="2.65" ry="2.35" fill="#00BFC4"/>
<ellipse cx="513.18" cy="644.9" rx="2.65" ry="2.35" fill="#00BFC4"/>
<ellipse cx="544.66" cy="647.5" rx="2.65" ry="2.35" fill="#00BFC4"/>
<ellipse cx="576.14" cy="645.1" rx="2.65" ry="2.35" fill="#00BFC4"/>
<ellipse cx="607.62" cy="647.5" rx="2.65" ry="2.35" fill="#00BFC4"/>
<ellipse cx="639.1" cy="644.7" rx="2.65" ry="2.35" fill="#00BFC4"/>
<ellipse cx="670.58" cy="646.2" rx="2.65" ry="2.35" fill="#00BFC4"/>
<ellipse cx="418.74" cy="528.3" rx="2.65" ry="2.35" fill="#F8766D"/>
<ellipse cx="450.22" cy="567.2" rx="2.65" ry="2.35" fill="#F8766D"/>
<ellipse cx="481.7" cy="588.2" rx="2.65" ry="2.35" fill="#F8766D"/>
<ellipse cx="513.18" cy="586.8" rx="2.65" ry="2.35" fill="#F8766D"/>
<ellipse cx="544.66" cy="621.9" rx="2.65" ry="2.35" fill="#F8766D"/>
<ellipse cx="576.14" cy="638.4" rx="2.65" ry="2.35" fill="#F8766D"/>
<ellipse cx="607.62" cy="646.1" rx="2.65" ry="2.35" fill="#F8766D"/>
<ellipse cx="639.1" cy="646.8" rx="2.65" ry="2.35" fill="#F8766D"/>
<ellipse cx="670.58" cy="646.8" rx="2.65" ry="2.35" fill="#F8766D"/>
<text x="419.1" y="499.8" text-anchor="middle" class="lt" fill="#DA1F28">a</text>
<text x="419.1" y="636.7" text-anchor="middle" class="lt" fill="#17B3BC">a</text>
<text x="450.2" y="540.7" text-anchor="middle" class="lt" fill="#DA1F28">a</text>
<text x="448.5" y="656.2" text-anchor="middle" class="lt" fill="#17B3BC">a</text>
<text x="483.3" y="570.9" text-anchor="middle" class="lt" fill="#DA1F28">abc</text>
<text x="481.1" y="655" text-anchor="middle" class="lt" fill="#17B3BC">ab</text>
<text x="515.6" y="570.9" text-anchor="middle" class="lt" fill="#DA1F28">bc</text>
<text x="514.7" y="661.2" text-anchor="middle" class="lt" fill="#17B3BC">b</text>
<text x="548.6" y="600.9" text-anchor="middle" class="lt" fill="#DA1F28">cd</text>
<text x="542.4" y="661.5" text-anchor="middle" class="lt" fill="#17B3BC">bc</text>
<text x="580.2" y="624.7" text-anchor="middle" class="lt" fill="#DA1F28">cd</text>
<text x="578" y="661.6" text-anchor="middle" class="lt" fill="#17B3BC">bcd</text>
<text x="602" y="633.7" text-anchor="middle" class="lt" fill="#DA1F28">d</text>
<text x="612.6" y="662" text-anchor="middle" class="lt" fill="#17B3BC">cd</text>
<text x="639.2" y="636" text-anchor="middle" class="lt" fill="#DA1F28">d</text>
<text x="639.7" y="664" text-anchor="middle" class="lt" fill="#17B3BC">d</text>
<text x="667" y="636" text-anchor="middle" class="lt" fill="#DA1F28">d</text>
<text x="669.8" y="666.6" text-anchor="middle" class="lt" fill="#17B3BC">cd</text>
<text x="416.5" y="654.6" class="tg">F</text>
<rect x="55.6" y="720" width="281.6" height="160.6" fill="#EBEBEB"/>
<line x1="55.6" x2="337.2" y1="729.3" y2="729.3" stroke="#F5F5F5" stroke-width="1.0"/>
<line x1="55.6" x2="337.2" y1="765.53" y2="765.53" stroke="#F5F5F5" stroke-width="1.0"/>
<line x1="55.6" x2="337.2" y1="801.75" y2="801.75" stroke="#F5F5F5" stroke-width="1.0"/>
<line x1="55.6" x2="337.2" y1="837.99" y2="837.99" stroke="#F5F5F5" stroke-width="1.0"/>
<line x1="55.6" x2="337.2" y1="874.22" y2="874.22" stroke="#F5F5F5" stroke-width="1.0"/>
<line y1="720" y2="880.6" x1="92.42" x2="92.42" stroke="#F5F5F5" stroke-width="1.0"/>
<line y1="720" y2="880.6" x1="172.57" x2="172.57" stroke="#F5F5F5" stroke-width="1.0"/>
<line y1="720" y2="880.6" x1="252.72" x2="252.72" stroke="#F5F5F5" stroke-width="1.0"/>
<line y1="720" y2="880.6" x1="332.88" x2="332.88" stroke="#F5F5F5" stroke-width="1.0"/>
<line x1="55.6" x2="337.2" y1="747.41" y2="747.41" stroke="#F5F5F5" stroke-width="1.0"/>
<line x1="55.6" x2="337.2" y1="783.64" y2="783.64" stroke="#F5F5F5" stroke-width="1.0"/>
<line x1="55.6" x2="337.2" y1="819.87" y2="819.87" stroke="#F5F5F5" stroke-width="1.0"/>
<line x1="55.6" x2="337.2" y1="856.1" y2="856.1" stroke="#F5F5F5" stroke-width="1.0"/>
<line y1="720" y2="880.6" x1="132.5" x2="132.5" stroke="#F5F5F5" stroke-width="1.0"/>
<line y1="720" y2="880.6" x1="212.65" x2="212.65" stroke="#F5F5F5" stroke-width="1.0"/>
<line y1="720" y2="880.6" x1="292.8" x2="292.8" stroke="#F5F5F5" stroke-width="1.0"/>
<line x1="51.6" x2="55.6" y1="747.41" y2="747.41" stroke="#666" stroke-width="0.9"/>
<line x1="51.6" x2="55.6" y1="783.64" y2="783.64" stroke="#666" stroke-width="0.9"/>
<line x1="51.6" x2="55.6" y1="819.87" y2="819.87" stroke="#666" stroke-width="0.9"/>
<line x1="51.6" x2="55.6" y1="856.1" y2="856.1" stroke="#666" stroke-width="0.9"/>
<line y1="880.6" y2="884.6" x1="132.5" x2="132.5" stroke="#666" stroke-width="0.9"/>
<line y1="880.6" y2="884.6" x1="212.65" x2="212.65" stroke="#666" stroke-width="0.9"/>
<line y1="880.6" y2="884.6" x1="292.8" x2="292.8" stroke="#666" stroke-width="0.9"/>
<text x="47.9" y="754.61" text-anchor="end" class="tk">4</text>
<text x="47.9" y="790.84" text-anchor="end" class="tk">3</text>
<text x="47.9" y="827.07" text-anchor="end" class="tk">2</text>
<text x="47.9" y="863.3" text-anchor="end" class="tk">1</text>
<text x="137.4" y="905.3" text-anchor="middle" class="tk">3500</text>
<text x="217.55" y="905.3" text-anchor="middle" class="tk">4000</text>
<text x="297.7" y="905.3" text-anchor="middle" class="tk">4500</text>
<text transform="translate(23.5,800) rotate(-90)" x="0" y="0" text-anchor="middle" class="ti">FSpe</text>
<text x="216.5" y="925.5" text-anchor="middle" class="ti">Elevation (m)</text>
<line x1="68.38" x2="68.38" y1="812.6" y2="853.4" stroke="#62C9D1" stroke-width="1.1"/>
<line x1="100.44" x2="100.44" y1="822.4" y2="868.2" stroke="#62C9D1" stroke-width="1.1"/>
<line x1="68.38" x2="68.38" y1="727.4" y2="777.6" stroke="#EBEBEB" stroke-width="1.9"/>
<line x1="68.38" x2="68.38" y1="727.4" y2="777.6" stroke="#F0B9B4" stroke-width="1.2"/>
<line x1="100.44" x2="100.44" y1="784.6" y2="806.2" stroke="#EBEBEB" stroke-width="1.9"/>
<line x1="100.44" x2="100.44" y1="784.6" y2="806.2" stroke="#F0B9B4" stroke-width="1.2"/>
<line x1="132.5" x2="132.5" y1="803" y2="817.2" stroke="#EBEBEB" stroke-width="1.9"/>
<line x1="132.5" x2="132.5" y1="803" y2="817.2" stroke="#F0B9B4" stroke-width="1.2"/>
<line x1="164.56" x2="164.56" y1="794.8" y2="823.4" stroke="#EBEBEB" stroke-width="1.9"/>
<line x1="164.56" x2="164.56" y1="794.8" y2="823.4" stroke="#F0B9B4" stroke-width="1.2"/>
<line x1="196.62" x2="196.62" y1="835" y2="856" stroke="#EBEBEB" stroke-width="1.9"/>
<line x1="196.62" x2="196.62" y1="835" y2="856" stroke="#F0B9B4" stroke-width="1.2"/>
<polyline points="68.38,752.5 100.44,795.4 132.5,810.1 164.56,809.1 196.62,845.5 228.68,860.7 260.74,867 292.8,870.7 324.86,871.9" fill="none" stroke="#F8766D" stroke-width="1.25" stroke-linejoin="round"/>
<polyline points="68.38,833 100.44,845.3 132.5,865.3 164.56,865.9 196.62,863.2 228.68,862.3 260.74,860.7 292.8,864.6 324.86,868.8" fill="none" stroke="#00BFC4" stroke-width="1.35" stroke-linejoin="round"/>
<ellipse cx="68.38" cy="833" rx="2.65" ry="2.35" fill="#00BFC4"/>
<ellipse cx="100.44" cy="845.3" rx="2.65" ry="2.35" fill="#00BFC4"/>
<ellipse cx="132.5" cy="865.3" rx="2.65" ry="2.35" fill="#00BFC4"/>
<ellipse cx="164.56" cy="865.9" rx="2.65" ry="2.35" fill="#00BFC4"/>
<ellipse cx="196.62" cy="863.2" rx="2.65" ry="2.35" fill="#00BFC4"/>
<ellipse cx="228.68" cy="862.3" rx="2.65" ry="2.35" fill="#00BFC4"/>
<ellipse cx="260.74" cy="860.7" rx="2.65" ry="2.35" fill="#00BFC4"/>
<ellipse cx="292.8" cy="864.6" rx="2.65" ry="2.35" fill="#00BFC4"/>
<ellipse cx="324.86" cy="868.8" rx="2.65" ry="2.35" fill="#00BFC4"/>
<ellipse cx="68.38" cy="752.5" rx="2.65" ry="2.35" fill="#F8766D"/>
<ellipse cx="100.44" cy="795.4" rx="2.65" ry="2.35" fill="#F8766D"/>
<ellipse cx="132.5" cy="810.1" rx="2.65" ry="2.35" fill="#F8766D"/>
<ellipse cx="164.56" cy="809.1" rx="2.65" ry="2.35" fill="#F8766D"/>
<ellipse cx="196.62" cy="845.5" rx="2.65" ry="2.35" fill="#F8766D"/>
<ellipse cx="228.68" cy="860.7" rx="2.65" ry="2.35" fill="#F8766D"/>
<ellipse cx="260.74" cy="867" rx="2.65" ry="2.35" fill="#F8766D"/>
<ellipse cx="292.8" cy="870.7" rx="2.65" ry="2.35" fill="#F8766D"/>
<ellipse cx="324.86" cy="871.9" rx="2.65" ry="2.35" fill="#F8766D"/>
<text x="70" y="725.2" text-anchor="middle" class="lt" fill="#DA1F28">a</text>
<text x="70.4" y="862.8" text-anchor="middle" class="lt" fill="#17B3BC">a</text>
<text x="105.6" y="766.1" text-anchor="middle" class="lt" fill="#DA1F28">ab</text>
<text x="104.2" y="882.2" text-anchor="middle" class="lt" fill="#17B3BC">ab</text>
<text x="135.8" y="796.3" text-anchor="middle" class="lt" fill="#DA1F28">ab</text>
<text x="126.6" y="881.2" text-anchor="middle" class="lt" fill="#17B3BC">ab</text>
<text x="166.9" y="796.3" text-anchor="middle" class="lt" fill="#DA1F28">ab</text>
<text x="169.6" y="882.6" text-anchor="middle" class="lt" fill="#17B3BC">ab</text>
<text x="199.9" y="826.1" text-anchor="middle" class="lt" fill="#DA1F28">bc</text>
<text x="198.7" y="882.2" text-anchor="middle" class="lt" fill="#17B3BC">bc</text>
<text x="231.4" y="850.2" text-anchor="middle" class="lt" fill="#DA1F28">cd</text>
<text x="227.4" y="879.9" text-anchor="middle" class="lt" fill="#17B3BC">bc</text>
<text x="259" y="855.3" text-anchor="middle" class="lt" fill="#DA1F28">d</text>
<text x="264.6" y="882.2" text-anchor="middle" class="lt" fill="#17B3BC">bc</text>
<text x="291.7" y="861.2" text-anchor="middle" class="lt" fill="#DA1F28">d</text>
<text x="291.7" y="888" text-anchor="middle" class="lt" fill="#17B3BC">c</text>
<text x="318.3" y="861.2" text-anchor="middle" class="lt" fill="#DA1F28">d</text>
<text x="323.7" y="891.5" text-anchor="middle" class="lt" fill="#17B3BC">c</text>
<text x="58.6" y="879.6" class="tg">G</text><text x="419.4" y="740.9" class="tg">Aspect</text>
<rect x="391.1" y="755.9" width="21.7" height="15.1" fill="#F2F2F2"/>
<rect x="391.1" y="772" width="21.7" height="14.3" fill="#F2F2F2"/>
<line x1="392.9" x2="410.5" y1="763.9" y2="763.9" stroke="#F8766D" stroke-opacity="0.45" stroke-width="1.3"/>
<line x1="392.9" x2="410.5" y1="779.5" y2="779.5" stroke="#00BFC4" stroke-opacity="0.8" stroke-width="1.3"/>
<circle cx="402.1" cy="763.9" r="2.7" fill="#F8766D"/>
<circle cx="402.1" cy="779.5" r="2.7" fill="#00BFC4"/>
<text x="437.3" y="767.6" class="ti">North</text>
<text x="436.0" y="788.2" class="ti">South</text>
</svg>
</body></html>
